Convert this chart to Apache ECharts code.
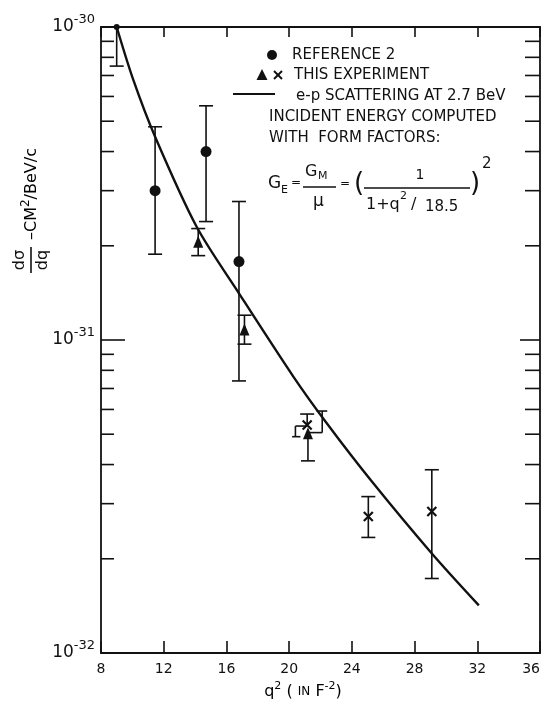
<!DOCTYPE html>
<html>
<head>
<meta charset="utf-8">
<script src="https://cdn.jsdelivr.net/npm/echarts@6/dist/echarts.min.js"></script>
<style>
  html, body { margin: 0; padding: 0; background: #fff; }
  #chart { width: 544px; height: 714px; }
</style>
</head>
<body>
<div id="chart"></div>
<script>
  'use strict'

  /* data
     cross sections are in units of 1e-32 cm^2/BeV/c (so 100 = 1e-30) */
  var UNIT_EXP = -32;

  // Reference 2 (filled circles)
  var refQ    = [9.0, 11.45, 14.7, 16.8];
  var refVal  = [100, 30, 40, 17.8];
  var refLow  = [75, 18.8, 23.9, 7.4];
  var refHigh = [null, 48, 56, 27.7];

  // this experiment (triangles)
  var triQ    = [14.2, 17.15, 21.2];
  var triVal  = [20.6, 10.8, 5.04];
  var triLow  = [18.6, 9.7, 4.11];
  var triHigh = [22.7, 12.0, null];

  // this experiment (crosses)
  var crossQ    = [21.15, 25.05, 29.1];
  var crossVal  = [5.35, 2.73, 2.83];
  var crossLow  = [null, 2.34, 1.73];
  var crossHigh = [5.8, 3.16, 3.85];

  // shifted error brackets near q2 = 21  [q1, v1, q2, v2]
  var bracketSegs = [
    [21.15, 5.31, 20.40, 5.31],
    [20.40, 5.31, 20.40, 4.91],
    [20.19, 4.91, 20.72, 4.91],
    [21.15, 5.06, 22.11, 5.06],
    [22.11, 5.06, 22.11, 5.93],
    [21.75, 5.93, 22.43, 5.93]
  ];

  // e-p scattering curve
  var curveQ   = [9.0, 10.05, 11.45, 14.1, 16.8, 20.3, 22.4, 25.2, 29.1, 32.1];
  var curveVal = [100, 68, 44.6, 23.0, 14.1, 7.6, 5.42, 3.57, 2.08, 1.42];

  // axes
  var xMin = 8, xMax = 36, xStep = 4;
  var yMin = 1, yMax = 100;
  var minorTicks = [2, 3, 4, 5, 6, 7, 8, 9, 20, 30, 40, 50, 60, 70, 80, 90];

  var FONT = '"DejaVu Sans", sans-serif';
  var INK = '#111';

  function zip(q, v) {
    return q.map(function (x, i) { return [x, v[i]]; });
  }
  function zipErr(q, v, lo, hi) {
    return q.map(function (x, i) { return [x, v[i], lo[i], hi[i]]; });
  }

  /* error bars: value = [x, y, low|null, high|null] */
  var renderErr = function (params, api) {
    var x = api.value(0), y = api.value(1);
    var lo = api.value(2), hi = api.value(3);
    var hasLo = lo != null && !isNaN(lo) && lo > 0;
    var hasHi = hi != null && !isNaN(hi) && hi > 0;
    var pLo = api.coord([x, hasLo ? lo : y]);
    var pHi = api.coord([x, hasHi ? hi : y]);
    var w = 7;
    var st = { stroke: INK, lineWidth: 1.6 };
    var ch = [{ type: 'line', shape: { x1: pLo[0], y1: pLo[1], x2: pHi[0], y2: pHi[1] }, style: st }];
    if (hasLo) ch.push({ type: 'line', shape: { x1: pLo[0] - w, y1: pLo[1], x2: pLo[0] + w, y2: pLo[1] }, style: st });
    if (hasHi) ch.push({ type: 'line', shape: { x1: pHi[0] - w, y1: pHi[1], x2: pHi[0] + w, y2: pHi[1] }, style: st });
    return { type: 'group', children: ch };
  };

  var renderSeg = function (params, api) {
    var p1 = api.coord([api.value(0), api.value(1)]);
    var p2 = api.coord([api.value(2), api.value(3)]);
    return { type: 'line', shape: { x1: p1[0], y1: p1[1], x2: p2[0], y2: p2[1] }, style: { stroke: INK, lineWidth: 1.6 } };
  };

  /* minor log ticks on both sides */
  var renderMinor = function (params, api) {
    var v = api.value(1);
    var pl = api.coord([xMin, v]);
    var pr = api.coord([xMax, v]);
    var st = { stroke: INK, lineWidth: 1.6 };
    return { type: 'group', children: [
      { type: 'line', shape: { x1: pl[0], y1: pl[1], x2: pl[0] + 13, y2: pl[1] }, style: st },
      { type: 'line', shape: { x1: pr[0], y1: pr[1], x2: pr[0] - 15, y2: pr[1] }, style: st }
    ] };
  };

  var crossPath = 'path://M0,0L10,10M10,0L0,10';

  var chartdata = [
    {
      name: 'curve', type: 'line', smooth: 0.3, symbol: 'none',
      data: zip(curveQ, curveVal),
      lineStyle: { color: INK, width: 2.4 }, z: 3
    },
    {
      name: 'minor', type: 'custom', renderItem: renderMinor,
      data: minorTicks.map(function (v) { return [xMin, v]; }),
      encode: { x: 0, y: 1 }, silent: true, z: 2
    },
    {
      name: 'refErr', type: 'custom', renderItem: renderErr,
      data: zipErr(refQ, refVal, refLow, refHigh), encode: { x: 0, y: 1 }, z: 4
    },
    {
      name: 'triErr', type: 'custom', renderItem: renderErr,
      data: zipErr(triQ, triVal, triLow, triHigh), encode: { x: 0, y: 1 }, z: 4
    },
    {
      name: 'crossErr', type: 'custom', renderItem: renderErr,
      data: zipErr(crossQ, crossVal, crossLow, crossHigh), encode: { x: 0, y: 1 }, z: 4
    },
    {
      name: 'brackets', type: 'custom', renderItem: renderSeg,
      data: bracketSegs, encode: { x: [0, 2], y: [1, 3] }, z: 4
    },
    {
      name: 'REFERENCE 2', type: 'scatter', symbol: 'circle',
      symbolSize: function (val, p) { return p.dataIndex === 0 ? 6 : 11; },
      data: zip(refQ, refVal), itemStyle: { color: INK, opacity: 1 }, z: 5
    },
    {
      name: 'THIS EXPERIMENT', type: 'scatter', symbol: 'triangle', symbolSize: [10, 12],
      data: zip(triQ, triVal), itemStyle: { color: INK, opacity: 1 }, z: 5
    },
    {
      name: 'THIS EXPERIMENT x', type: 'scatter', symbol: crossPath, symbolSize: 9,
      data: zip(crossQ, crossVal),
      itemStyle: { color: 'none', borderColor: INK, borderWidth: 2.2, opacity: 1 }, z: 5
    }
  ];

  var axisLine = { show: true, lineStyle: { color: INK, width: 1.8 } };

  var legendText = function (t, x, y, size) {
    return {
      type: 'text', x: x, y: y, silent: true,
      style: { text: t, fill: INK, font: (size || 15) + 'px ' + FONT,
               align: 'left', verticalAlign: 'middle', textAlign: 'left', textVerticalAlign: 'middle' }
    };
  };
  var cText = function (t, x, y, size) {
    return {
      type: 'text', x: x, y: y, silent: true,
      style: { text: t, fill: INK, font: size + 'px ' + FONT,
               align: 'center', verticalAlign: 'middle', textAlign: 'center', textVerticalAlign: 'middle' }
    };
  };
  var seg = function (x1, y1, x2, y2, w) {
    return { type: 'line', silent: true, shape: { x1: x1, y1: y1, x2: x2, y2: y2 }, style: { stroke: INK, lineWidth: w || 1.6 } };
  };
  var hLine = function (x1, x2, y, w) {
    return seg(x1, y, x2, y, w);
  };

  var graphics = [
    // legend
    { type: 'circle', shape: { cx: 272, cy: 55, r: 5 }, style: { fill: INK } },
    legendText('REFERENCE 2', 292, 55),
    { type: 'polygon', shape: { points: [[262, 69], [256.5, 80], [267.5, 80]] }, style: { fill: INK } },
    seg(274, 71, 282, 79, 2),
    seg(282, 71, 274, 79, 2),
    legendText('THIS EXPERIMENT', 294, 75),
    hLine(233, 275, 94, 2),
    legendText('e-p SCATTERING AT 2.7 BeV', 296, 96),
    legendText('INCIDENT ENERGY COMPUTED', 269, 117),
    legendText('WITH  FORM FACTORS:', 269, 138),
    // formula
    legendText('G', 268, 184, 17),
    legendText('E', 281, 190, 11),
    legendText('=', 291, 183, 12),
    legendText('G', 305, 172, 16),
    legendText('M', 318, 176, 11),
    hLine(303, 336, 187),
    legendText('\u03bc', 313, 202, 17),
    legendText('=', 340, 184, 12),
    cText('(', 359, 184, 26),
    cText('1', 420, 175, 14),
    hLine(364, 470, 188),
    legendText('1+q', 366, 205, 16),
    legendText('2', 400, 196, 11),
    legendText('/', 411, 205, 16),
    legendText('18.5', 425, 207, 15),
    cText(')', 475, 184, 26),
    legendText('2', 482, 164, 15),
    // x axis title
    {
      type: 'text', x: 303, y: 692, silent: true,
      style: {
        text: '{b|q}{s|2}{b| ( }{m|IN}{b| F}{s|-2}{b|)}',
        align: 'center', verticalAlign: 'middle', textAlign: 'center', textVerticalAlign: 'middle',
        rich: {
          b: { fontSize: 16, fontFamily: FONT, color: INK },
          m: { fontSize: 12, fontFamily: FONT, color: INK },
          s: { fontSize: 11, fontFamily: FONT, color: INK, padding: [0, 0, 12, 0] }
        }
      }
    },
    // y axis title, rotated
    {
      type: 'group', x: 31, y: 274, rotation: Math.PI / 2, silent: true,
      children: [
        cText('d\u03c3', 14, -11, 16),
        hLine(1, 27, 0, 1.6),
        cText('dq', 14, 12, 16),
        {
          type: 'text', x: 34, y: 1,
          style: {
            text: '{t|\u2013CM}{s|2}{t|/BeV/c}',
            align: 'left', verticalAlign: 'middle', textAlign: 'left', textVerticalAlign: 'middle',
            rich: {
              t: { fontSize: 16, fontFamily: FONT, color: INK },
              s: { fontSize: 12, fontFamily: FONT, color: INK, padding: [0, 0, 12, 0] }
            }
          }
        }
      ]
    }
  ];

  var chart = document.getElementById('chart');
  var myChart = echarts.init(chart, null, { renderer: 'canvas' });
  var option = {
    animation: false,
    backgroundColor: '#fff',
    grid: { left: 101, right: 4, top: 27, bottom: 61, containLabel: false, outerBoundsMode: 'none' },
    xAxis: [
      {
        type: 'value', min: xMin, max: xMax, interval: xStep, position: 'bottom',
        axisLine: axisLine,
        axisTick: { inside: true, length: 12, lineStyle: { color: INK, width: 1.6 } },
        axisLabel: { color: INK, fontSize: 14, fontFamily: FONT, margin: 9, alignMaxLabel: 'right' },
        splitLine: { show: false }
      },
      {
        type: 'value', min: xMin, max: xMax, interval: xStep, position: 'top',
        axisLine: axisLine,
        axisTick: { inside: true, length: 10, lineStyle: { color: INK, width: 1.6 } },
        axisLabel: { show: false },
        splitLine: { show: false }
      }
    ],
    yAxis: [
      {
        type: 'log', logBase: 10, min: yMin, max: yMax, position: 'left',
        axisLine: axisLine,
        axisTick: { inside: true, length: 24, lineStyle: { color: INK, width: 1.6 } },
        axisLabel: {
          margin: 6,
          formatter: function (v) {
            var e = Math.round(Math.log(v) / Math.LN10) + UNIT_EXP;
            return '{b|10}{s|' + e + '}';
          },
          rich: {
            b: { fontSize: 17, fontFamily: FONT, color: INK },
            s: { fontSize: 13, fontFamily: FONT, color: INK, padding: [0, 0, 14, 0] }
          }
        },
        splitLine: { show: false }
      },
      {
        type: 'log', logBase: 10, min: yMin, max: yMax, position: 'right',
        axisLine: axisLine,
        axisTick: { inside: true, length: 20, lineStyle: { color: INK, width: 1.6 } },
        axisLabel: { show: false },
        splitLine: { show: false }
      }
    ],
    series: chartdata,
    graphic: graphics
  };
  myChart.setOption(option);
</script>
</body>
</html>
